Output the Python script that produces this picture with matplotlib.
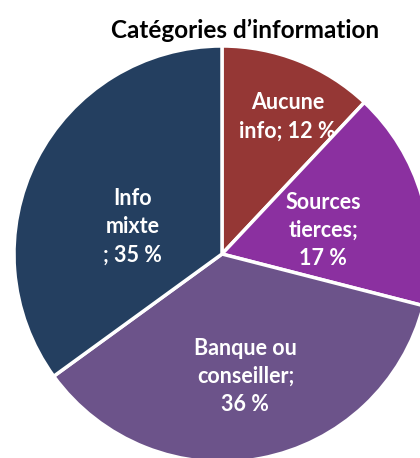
import numpy as np
import matplotlib.pyplot as plt

# Données du graphique
categories = ['Aucune\ninfo; 12 %', 'Sources\ntierces;\n17 %', 'Banque ou\nconseiller;\n36 %', 'Info\nmixte\n; 35 %']
valeurs = [12, 17, 36, 35]
couleurs = ['#953735', '#8B30A0', '#6C538A', '#243F60']
# position des étiquettes (fraction du rayon, décalage d'angle en degrés)
dist_labels = [0.73, 0.50, 0.60, 0.45]
decal_angle = [-4, -3, 0, 10]

plt.rcParams['font.family'] = ['Lato', 'DejaVu Sans']

fig = plt.figure(figsize=(4.2, 4.58), dpi=100)
ax = fig.add_axes([0, 0, 1, 1])

centre = (222, 458 - 254)
rayon = 208
wedges, _ = ax.pie(valeurs, colors=couleurs, startangle=90, counterclock=False,
                   center=centre, radius=rayon,
                   wedgeprops=dict(edgecolor='white', linewidth=2.5))

# Étiquettes à l'intérieur des secteurs
for w, lab, d, da in zip(wedges, categories, dist_labels, decal_angle):
    ang = np.deg2rad((w.theta1 + w.theta2) / 2 + da)
    x = centre[0] + d * rayon * np.cos(ang)
    y = centre[1] + d * rayon * np.sin(ang)
    ax.text(x, y, lab, ha='center', va='center', color='white',
            fontsize=15.5, fontweight='bold', linespacing=1.42)

ax.set_xlim(0, 420)
ax.set_ylim(0, 458)
ax.set_aspect('auto')
ax.axis('off')

fig.text(245 / 420, 1 - 30 / 458, 'Catégories d’information', ha='center', va='center',
         fontsize=17.5, fontweight='bold', color='black')

plt.savefig('out.png', dpi=100)
